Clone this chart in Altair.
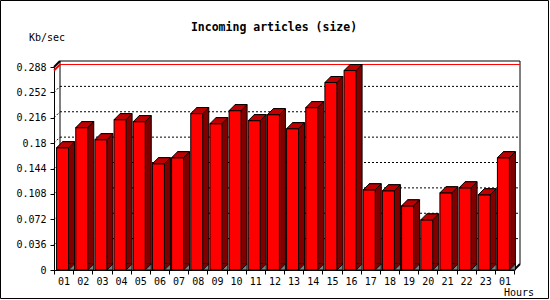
import altair as alt
import pandas as pd

# ---- data ----
hours = ["01", "02", "03", "04", "05", "06", "07", "08", "09", "10", "11", "12",
         "13", "14", "15", "16", "17", "18", "19", "20", "21", "22", "23", "01"]
values = [0.1735, 0.2020, 0.1849, 0.2133, 0.2105, 0.1508, 0.1593, 0.2219,
          0.2076, 0.2261, 0.2119, 0.2204, 0.2005, 0.2304, 0.2660, 0.2830,
          0.1138, 0.1124, 0.0910, 0.0711, 0.1095, 0.1166, 0.1067, 0.1593]
y_ticks = [0, 0.036, 0.072, 0.108, 0.144, 0.18, 0.216, 0.252, 0.288]
grid_ticks = [0.036, 0.072, 0.108, 0.144, 0.18, 0.216, 0.252]
title_text = "Incoming articles (size)"
y_title = "Kb/sec"
x_title = "Hours"

W, H = 460, 203
D = 6  # 3D depth in pixels
FONT = "DejaVu Sans Mono"

df = pd.DataFrame({"i": list(range(len(hours))), "hour": hours, "v": values})
grid_df = pd.DataFrame({"t": grid_ticks})

label_expr = "[" + ",".join("'%s'" % h for h in hours) + "][datum.value]"

xscale = alt.Scale(domain=list(range(len(hours))), paddingInner=0, paddingOuter=0)
yscale = alt.Scale(domain=[0, 0.288], nice=False, zero=True)

xaxis = alt.Axis(title=None, labelExpr=label_expr, tickBand="extent", tickSize=4,
                 tickColor="black", domainColor="black", labelAngle=0, labelPadding=2,
                 labelFont=FONT, labelFontSize=10, labelColor="black", grid=False)
yaxis = alt.Axis(title=None, values=y_ticks, format=".3~f", tickSize=4, tickColor="black",
                 domainColor="black", labelPadding=4, labelFont=FONT, labelFontSize=10,
                 labelColor="black", grid=False)


def YF(field):
    return alt.Y(field, scale=yscale, axis=yaxis, title=None)


def YD(val):
    return alt.YDatum(val, scale=yscale, axis=yaxis, type="quantitative")


X = alt.X("i:O", scale=xscale, axis=xaxis, title=None)
Y = YF("v:Q")

diag = "M -1 1 L 1 -1"

# back wall dotted grid lines
grid = alt.Chart(grid_df).mark_rule(color="black", strokeDash=[2, 2], yOffset=-D).encode(
    y=YF("t:Q"), x=alt.value(D), x2=alt.value(W + D))
grid_diag = alt.Chart(grid_df).mark_point(shape=diag, size=D * D, filled=False, stroke="black",
                                          strokeWidth=1, strokeDash=[2, 2], opacity=1,
                                          xOffset=D / 2, yOffset=-D / 2).encode(
    y=YF("t:Q"), x=alt.value(0))

# back wall frame
frame_df = pd.DataFrame({"top": [0.288], "bot": [0]})
wall_top = alt.Chart(frame_df).mark_rule(color="black", yOffset=-D).encode(
    y=YF("top:Q"), x=alt.value(D), x2=alt.value(W + D))
wall_left = alt.Chart(frame_df).mark_rule(color="black", yOffset=-D, y2Offset=-D).encode(
    y=YF("top:Q"), y2="bot:Q", x=alt.value(D))
wall_right = alt.Chart(frame_df).mark_rule(color="black", yOffset=-D, y2Offset=-D).encode(
    y=YF("top:Q"), y2="bot:Q", x=alt.value(W + D))
corner_tl = alt.Chart(frame_df).mark_point(shape=diag, size=D * D, filled=False, stroke="black",
                                           opacity=1, xOffset=D / 2, yOffset=-D / 2).encode(
    y=YF("top:Q"), x=alt.value(0))
corner_br = alt.Chart(frame_df).mark_point(shape=diag, size=D * D, filled=False, stroke="black",
                                           opacity=1, xOffset=D / 2, yOffset=-D / 2).encode(
    y=YF("bot:Q"), x=alt.value(W))

# red maximum line
max_line = alt.Chart(df).transform_aggregate(m="max(v)").mark_rule(
    color="red", yOffset=-D).encode(
    y=YF("m:Q"), x=alt.value(D), x2=alt.value(W + D))
max_diag = alt.Chart(df).transform_aggregate(m="max(v)").mark_point(
    shape=diag, size=D * D, filled=False, stroke="red", opacity=1,
    xOffset=D / 2, yOffset=-D / 2).encode(
    y=YF("m:Q"), x=alt.value(0))

# 3D bars
base = alt.Chart(df)
back = base.mark_bar(width=12, xOffset=5, yOffset=-D, y2Offset=-D, fill="#800000",
                     stroke="black", strokeWidth=1).encode(x=X, y=Y)
tri_dark = base.mark_point(shape="M -1 -1 L 1 -1 L -1 1 Z", size=D * D, filled=True,
                           fill="#800000", strokeWidth=0, opacity=1,
                           xOffset=8, yOffset=-D / 2).encode(x=X, y=YD(0))
tri_gray = base.mark_point(shape="M 1 -1 L 1 1 L -1 1 Z", size=D * D, filled=True,
                           fill="#808080", stroke="black", strokeWidth=1, opacity=1,
                           xOffset=8, yOffset=-D / 2).encode(x=X, y=YD(0))
front = base.mark_bar(width=12, xOffset=-1, fill="#ff0000", stroke="black",
                      strokeWidth=1).encode(x=X, y=Y)
top = base.mark_point(shape="M -1 0.3333 L 0.3333 0.3333 L 1 -0.3333 L -0.3333 -0.3333 Z",
                      size=324, filled=True, fill="#c00000", stroke="black", strokeWidth=1,
                      opacity=1, xOffset=2, yOffset=-D / 2).encode(x=X, y=Y)

# texts
txt_df = pd.DataFrame({"title": [title_text], "yt": [y_title], "xt": [x_title]})
title = alt.Chart(txt_df).mark_text(font=FONT, fontSize=11.5, fontWeight="bold",
                                    color="black", align="center",
                                    baseline="alphabetic").encode(
    text="title:N", x=alt.value(220), y=alt.value(-36))
ytitle = alt.Chart(txt_df).mark_text(font=FONT, fontSize=10, color="black", align="center",
                                     baseline="alphabetic").encode(
    text="yt:N", x=alt.value(-7), y=alt.value(-26))
xtitle = alt.Chart(txt_df).mark_text(font=FONT, fontSize=10, color="black", align="right",
                                     baseline="alphabetic").encode(
    text="xt:N", x=alt.value(480), y=alt.value(229))

# outer border of the image
border = alt.Chart(txt_df).mark_rect(fillOpacity=0, stroke="black", strokeWidth=1).encode(
    x=alt.value(-54 + 0.5), x2=alt.value(548.5 - 54), y=alt.value(-67 + 0.5),
    y2=alt.value(298.5 - 67))

chart = alt.layer(
    grid, grid_diag, wall_top, wall_left, wall_right, corner_tl, corner_br,
    max_line, max_diag,
    back, tri_dark, tri_gray, front, top,
    title, ytitle, xtitle, border
).properties(
    width=W, height=H,
    autosize=alt.AutoSizeParams(type="none"),
    padding={"left": 54, "top": 67, "right": 36, "bottom": 30},
    background="white",
).configure_view(strokeWidth=0)

chart.save("out.html", embed_options={"renderer": "svg", "actions": False})
